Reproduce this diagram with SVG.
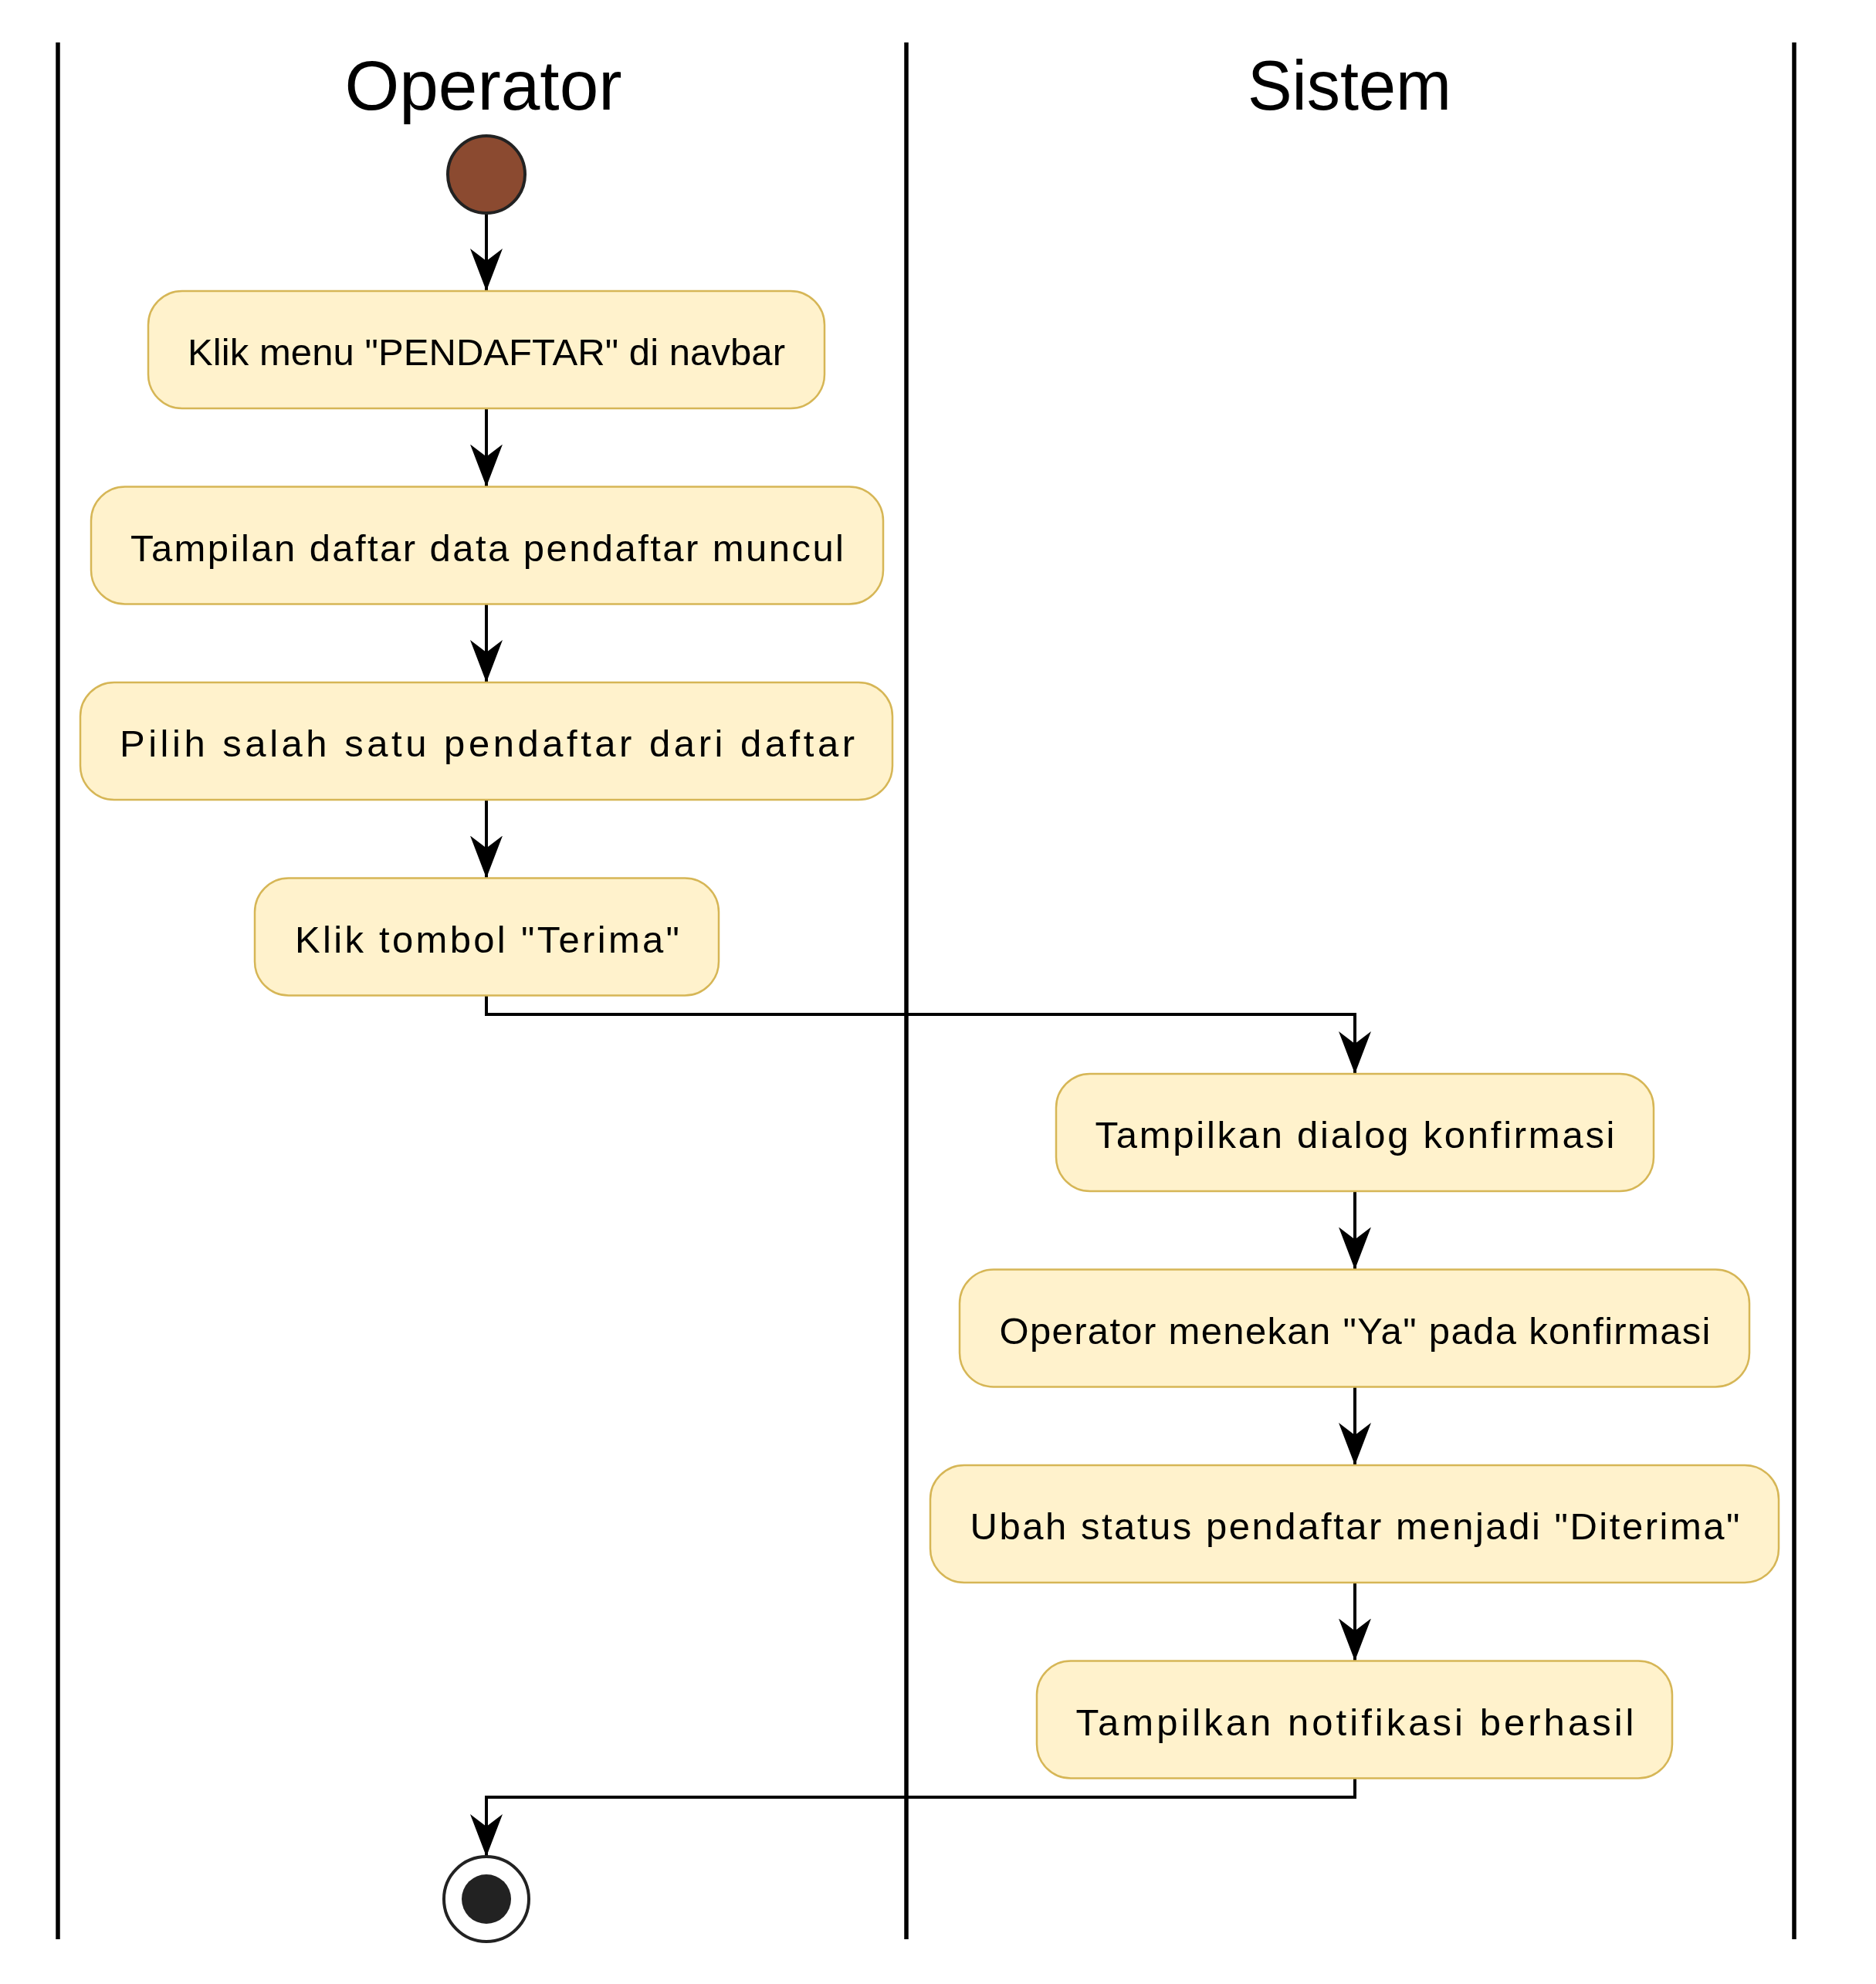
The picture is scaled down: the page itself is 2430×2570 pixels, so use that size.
<svg xmlns="http://www.w3.org/2000/svg" width="2430" height="2570" viewBox="0 0 2430 2570">
<style>
.lane{stroke:#000;stroke-width:5.5;fill:none}
.title{font-family:"Liberation Sans",Arial,sans-serif;font-size:91px;fill:#000;text-anchor:middle}
.act rect{fill:#FFF2CC;stroke:#D6B656;stroke-width:2.5}
.act text{font-family:"Liberation Sans",Arial,sans-serif;font-size:49px;fill:#000;text-anchor:middle}
.conn{stroke:#000;stroke-width:4;fill:none}
</style>
<defs>
<marker id="arr" markerUnits="userSpaceOnUse" markerWidth="60" markerHeight="46" refX="55" refY="21" orient="auto" viewBox="0 0 60 46">
<path d="M0,0 L55,21 L0,42 L16,21 Z" fill="#000"/>
</marker>
</defs>
<rect width="2430" height="2570" fill="#fff"/>
<g id="lanes">
<line class="lane" x1="75" y1="55" x2="75" y2="2512"/>
<line class="lane" x1="1174" y1="55" x2="1174" y2="2512"/>
<line class="lane" x1="2324" y1="55" x2="2324" y2="2512"/>
<text class="title" x="626" y="142">Operator</text>
<text class="title" x="1748" y="142" textLength="264" lengthAdjust="spacingAndGlyphs">Sistem</text>
</g>
<g id="connectors">
<path class="conn" d="M630,277 L630,377" marker-end="url(#arr)"/>
<path class="conn" d="M630,529 L630,630.5" marker-end="url(#arr)"/>
<path class="conn" d="M630,782.5 L630,884" marker-end="url(#arr)"/>
<path class="conn" d="M630,1036 L630,1137.5" marker-end="url(#arr)"/>
<path class="conn" d="M630,1289.5 L630,1314 L1755,1314 L1755,1391" marker-end="url(#arr)"/>
<path class="conn" d="M1755,1543 L1755,1644.5" marker-end="url(#arr)"/>
<path class="conn" d="M1755,1796.5 L1755,1898" marker-end="url(#arr)"/>
<path class="conn" d="M1755,2050 L1755,2151.5" marker-end="url(#arr)"/>
<path class="conn" d="M1755,2303.5 L1755,2328 L630,2328 L630,2405" marker-end="url(#arr)"/>
</g>
<g id="start">
<circle cx="630" cy="226" r="50" fill="#8B4A30" stroke="#222" stroke-width="4"/>
</g>
<g id="a1" class="act"><rect x="192" y="377" width="876" height="152" rx="44"/><text x="630" y="473" textLength="774" lengthAdjust="spacing">Klik menu "PENDAFTAR" di navbar</text></g>
<g id="a2" class="act"><rect x="118" y="630.5" width="1026" height="152" rx="44"/><text x="631" y="726.5" textLength="924" lengthAdjust="spacing">Tampilan daftar data pendaftar muncul</text></g>
<g id="a3" class="act"><rect x="104" y="884" width="1052" height="152" rx="44"/><text x="631" y="980" textLength="952" lengthAdjust="spacing">Pilih salah satu pendaftar dari daftar</text></g>
<g id="a4" class="act"><rect x="330" y="1137.5" width="601" height="152" rx="44"/><text x="631" y="1233.5" textLength="498" lengthAdjust="spacing">Klik tombol "Terima"</text></g>
<g id="a5" class="act"><rect x="1368" y="1391" width="774" height="152" rx="44"/><text x="1755" y="1487" textLength="673" lengthAdjust="spacing">Tampilkan dialog konfirmasi</text></g>
<g id="a6" class="act"><rect x="1243" y="1644.5" width="1023" height="152" rx="44"/><text x="1755" y="1740.5" textLength="921" lengthAdjust="spacing">Operator menekan "Ya" pada konfirmasi</text></g>
<g id="a7" class="act"><rect x="1205" y="1898" width="1099" height="152" rx="44"/><text x="1755" y="1994" textLength="997" lengthAdjust="spacing">Ubah status pendaftar menjadi "Diterima"</text></g>
<g id="a8" class="act"><rect x="1343" y="2151.5" width="823" height="152" rx="44"/><text x="1755" y="2247.5" textLength="723" lengthAdjust="spacing">Tampilkan notifikasi berhasil</text></g>
<g id="end">
<circle cx="630" cy="2460" r="55" fill="#fff" stroke="#222" stroke-width="4"/>
<circle cx="630" cy="2460" r="32" fill="#222"/>
</g>
</svg>
